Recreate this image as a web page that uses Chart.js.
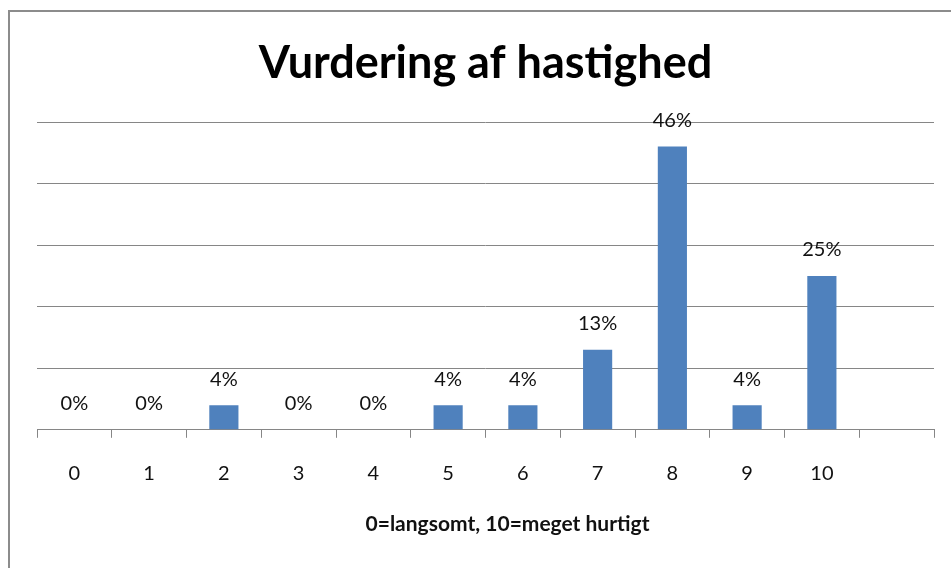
<!DOCTYPE html>
<html>
<head>
<meta charset="utf-8">
<script src="https://cdn.jsdelivr.net/npm/chart.js@4"></script>
<style>
  html, body { margin: 0; padding: 0; background: #fff; overflow: hidden; }
  canvas { display: block; }
</style>
</head>
<body>
<canvas id="speedChart" width="951" height="568"></canvas>
<script>
// Ratings 0..10 plus one empty slot at the end (as in the original sheet)
var ratingLabels = ['0', '1', '2', '3', '4', '5', '6', '7', '8', '9', '10', ''];
var ratingShares = [0, 0, 4, 0, 0, 4, 4, 13, 46, 4, 25, null];
var yTicks = [0, 10, 20, 30, 40, 50];

var chartTitle = 'Vurdering af hastighed';
var axisTitle = '0=langsomt, 10=meget hurtigt';

var fontFamily = 'Lato, "Open Sans", sans-serif';

// Left and top edge of the chart frame
var chartFrame = {
    id: 'chartFrame',
    beforeDraw: function(chart) {
        var ctx = chart.ctx;
        ctx.save();
        ctx.strokeStyle = '#8c8c8c';
        ctx.lineWidth = 2;
        ctx.beginPath();
        ctx.moveTo(9, chart.height);
        ctx.lineTo(9, 11);
        ctx.lineTo(chart.width, 11);
        ctx.stroke();
        ctx.restore();
    }
};

// Draw the percentage above each bar, and the x title a bit right of centre (like the original)
var barValueLabels = {
    id: 'barValueLabels',
    afterDraw: function(chart) {
        var ctx = chart.ctx;
        var meta = chart.getDatasetMeta(0);
        ctx.save();
        ctx.font = '20px ' + fontFamily;
        ctx.fillStyle = '#111';
        ctx.textAlign = 'center';
        ctx.textBaseline = 'middle';
        meta.data.forEach(function(bar, i) {
            var v = ratingShares[i];
            if (v === null || v === undefined) return;
            ctx.fillText(v + '%', bar.x, bar.y - 26);
        });

        var xs = chart.scales.x;
        ctx.font = 'bold 21px ' + fontFamily;
        ctx.fillText(axisTitle, (xs.left + xs.right) / 2 + 22, xs.bottom - 3 - 12.6);
        ctx.restore();
    }
};

var ctx = document.getElementById('speedChart').getContext('2d');
new Chart(ctx, {
    type: 'bar',
    data: {
        labels: ratingLabels,
        datasets: [{
            data: ratingShares,
            backgroundColor: '#4f81bd',
            borderWidth: 0,
            barPercentage: 0.39,
            categoryPercentage: 1.0
        }]
    },
    options: {
        responsive: false,
        animation: false,
        layout: {
            padding: { left: 37, right: 17, top: 0, bottom: 28 }
        },
        scales: {
            x: {
                grid: {
                    display: true,
                    drawOnChartArea: false,
                    drawTicks: true,
                    tickLength: 8,
                    color: '#868686',
                    offset: true
                },
                border: { display: true, color: '#868686', width: 1 },
                ticks: {
                    color: '#111',
                    padding: 24,
                    font: { family: fontFamily, size: 20 },
                    maxRotation: 0,
                    autoSkip: false
                },
                title: {
                    // space is kept here, text is drawn by the plugin
                    display: true,
                    text: axisTitle,
                    color: 'rgba(0,0,0,0)',
                    font: { family: fontFamily, size: 21, weight: 'bold' },
                    padding: { top: 2, bottom: 3 }
                }
            },
            y: {
                min: 0,
                max: 50,
                afterBuildTicks: function(scale) {
                    scale.ticks = yTicks.map(function(v) { return { value: v }; });
                },
                grid: {
                    display: true,
                    drawTicks: false,
                    color: '#868686'
                },
                border: { display: false },
                ticks: { display: false }
            }
        },
        plugins: {
            legend: { display: false },
            tooltip: { enabled: false },
            title: {
                display: true,
                text: chartTitle,
                color: '#000',
                font: { family: fontFamily, size: 45, weight: 'bold' },
                padding: { top: 36, bottom: 32 }
            }
        }
    },
    plugins: [chartFrame, barValueLabels]
});
</script>
</body>
</html>
